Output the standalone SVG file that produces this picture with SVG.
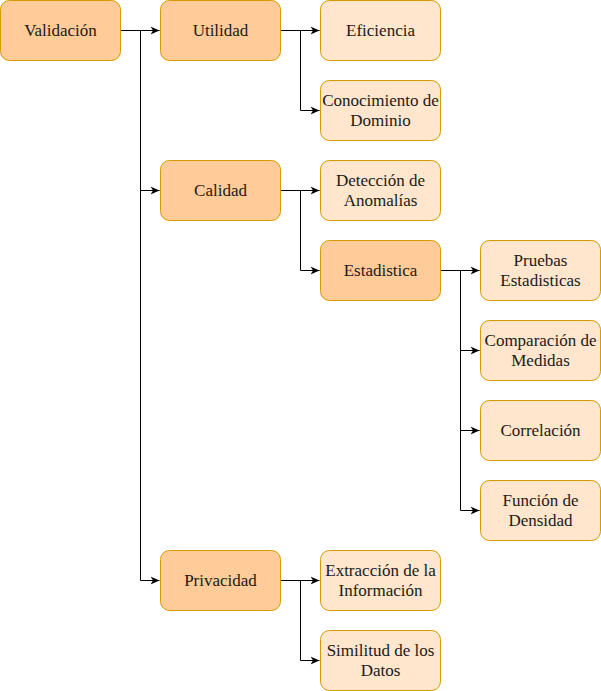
<svg xmlns="http://www.w3.org/2000/svg" width="601" height="691" viewBox="0 0 601 691">
<defs>
<style>
.d{fill:#ffcc99;stroke:#d79b00;stroke-width:1}
.l{fill:#ffe6cc;stroke:#d79b00;stroke-width:1}
text{font-family:Liberation Serif,serif;font-size:17px;fill:#1a1a1a;text-anchor:middle}
.c{fill:none;stroke:#000;stroke-width:1}
</style>
<marker id="a" viewBox="0 0 10 10" refX="9" refY="5" markerWidth="10" markerHeight="10" markerUnits="userSpaceOnUse" orient="auto">
<path d="M0,1 L9,5 L0,9 L2.5,5 Z" fill="#000"/>
</marker>
</defs>
<rect width="601" height="691" fill="#fff"/>
<g id="connectors">
<path class="c" d="M120.5,30.5 H140.5 V580.5 H159.5" marker-end="url(#a)"/>
<path class="c" d="M140.5,30.5 H159.5" marker-end="url(#a)"/>
<path class="c" d="M140.5,190.5 H159.5" marker-end="url(#a)"/>
<path class="c" d="M280.5,30.5 H300.5 V110.5 H319.5" marker-end="url(#a)"/>
<path class="c" d="M300.5,30.5 H319.5" marker-end="url(#a)"/>
<path class="c" d="M280.5,190.5 H300.5 V270.5 H319.5" marker-end="url(#a)"/>
<path class="c" d="M300.5,190.5 H319.5" marker-end="url(#a)"/>
<path class="c" d="M440.5,270.5 H460.5 V510.5 H479.5" marker-end="url(#a)"/>
<path class="c" d="M460.5,270.5 H479.5" marker-end="url(#a)"/>
<path class="c" d="M460.5,350.5 H479.5" marker-end="url(#a)"/>
<path class="c" d="M460.5,430.5 H479.5" marker-end="url(#a)"/>
<path class="c" d="M280.5,580.5 H300.5 V660.5 H319.5" marker-end="url(#a)"/>
<path class="c" d="M300.5,580.5 H319.5" marker-end="url(#a)"/>
</g>
<g id="validacion"><rect class="d" x="0.5" y="0.5" width="120" height="60" rx="9"/><text x="60.5" y="36">Validación</text></g>
<g id="utilidad"><rect class="d" x="160.5" y="0.5" width="120" height="60" rx="9"/><text x="220.5" y="36">Utilidad</text></g>
<g id="eficiencia"><rect class="l" x="320.5" y="0.5" width="120" height="60" rx="9"/><text x="380.5" y="36">Eficiencia</text></g>
<g id="conocimiento"><rect class="l" x="320.5" y="80.5" width="120" height="60" rx="9"/><text x="380.5" y="106">Conocimiento de</text><text x="380.5" y="126">Dominio</text></g>
<g id="calidad"><rect class="d" x="160.5" y="160.5" width="120" height="60" rx="9"/><text x="220.5" y="196">Calidad</text></g>
<g id="deteccion"><rect class="l" x="320.5" y="160.5" width="120" height="60" rx="9"/><text x="380.5" y="186">Detección de</text><text x="380.5" y="206">Anomalías</text></g>
<g id="estadistica"><rect class="d" x="320.5" y="240.5" width="120" height="60" rx="9"/><text x="380.5" y="276">Estadistica</text></g>
<g id="pruebas"><rect class="l" x="480.5" y="240.5" width="120" height="60" rx="9"/><text x="540.5" y="266">Pruebas</text><text x="540.5" y="286">Estadisticas</text></g>
<g id="comparacion"><rect class="l" x="480.5" y="320.5" width="120" height="60" rx="9"/><text x="540.5" y="346">Comparación de</text><text x="540.5" y="366">Medidas</text></g>
<g id="correlacion"><rect class="l" x="480.5" y="400.5" width="120" height="60" rx="9"/><text x="540.5" y="436">Correlación</text></g>
<g id="funcion"><rect class="l" x="480.5" y="480.5" width="120" height="60" rx="9"/><text x="540.5" y="506">Función de</text><text x="540.5" y="526">Densidad</text></g>
<g id="privacidad"><rect class="d" x="160.5" y="550.5" width="120" height="60" rx="9"/><text x="220.5" y="586">Privacidad</text></g>
<g id="extraccion"><rect class="l" x="320.5" y="550.5" width="120" height="60" rx="9"/><text x="380.5" y="576">Extracción de la</text><text x="380.5" y="596">Información</text></g>
<g id="similitud"><rect class="l" x="320.5" y="630.5" width="120" height="60" rx="9"/><text x="380.5" y="656">Similitud de los</text><text x="380.5" y="676">Datos</text></g>
</svg>
